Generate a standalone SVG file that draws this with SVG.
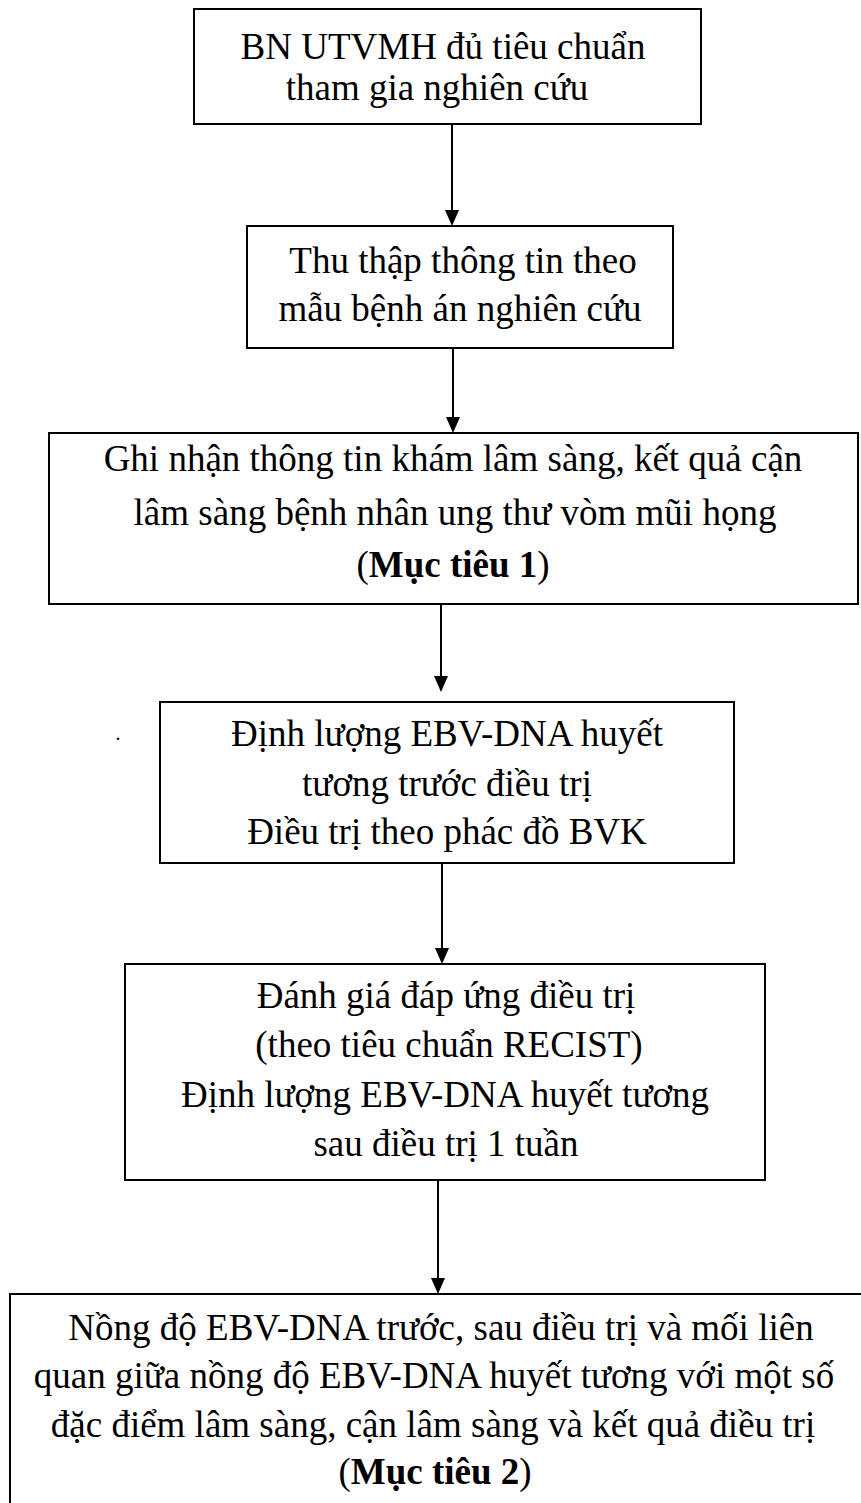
<svg xmlns="http://www.w3.org/2000/svg" width="861" height="1503" viewBox="0 0 861 1503">
<style>
.box{fill:#fff;stroke:#000;stroke-width:2}
.t{font-family:"Liberation Serif","Times New Roman",serif;font-size:37px;fill:#000;text-anchor:middle}
.b{font-weight:bold}
.c{stroke:#000;stroke-width:2;fill:none}
.h{fill:#000}
</style>
<rect width="861" height="1503" fill="#fff"/>
<g id="connectors">
<line class="c" x1="452" y1="124" x2="452" y2="210"/><path class="h" d="M445,210 L459,210 L452,226 Z"/>
<line class="c" x1="453" y1="348" x2="453" y2="417"/><path class="h" d="M446,417 L460,417 L453,433 Z"/>
<line class="c" x1="441" y1="604" x2="441" y2="676"/><path class="h" d="M434,676 L448,676 L441,692 Z"/>
<line class="c" x1="442" y1="863" x2="442" y2="948"/><path class="h" d="M435,948 L449,948 L442,964 Z"/>
<line class="c" x1="438" y1="1180" x2="438" y2="1278"/><path class="h" d="M431,1278 L445,1278 L438,1294 Z"/>
</g>
<g id="n1">
<rect class="box" x="194" y="9" width="507" height="115"/>
<text class="t" x="443" y="59">BN UTVMH đủ tiêu chuẩn</text>
<text class="t" x="437" y="100">tham gia nghiên cứu</text>
</g>
<g id="n2">
<rect class="box" x="247" y="226" width="426" height="122"/>
<text class="t" x="463" y="273">Thu thập thông tin theo</text>
<text class="t" x="460" y="321">mẫu bệnh án nghiên cứu</text>
</g>
<g id="n3">
<rect class="box" x="49" y="433" width="809" height="171"/>
<text class="t" x="453" y="471">Ghi nhận thông tin khám lâm sàng, kết quả cận</text>
<text class="t" x="455" y="525">lâm sàng bệnh nhân ung thư vòm mũi họng</text>
<text class="t" x="453" y="577">(<tspan class="b">Mục tiêu 1</tspan>)</text>
</g>
<g id="dot">
<text class="t" x="118" y="740" style="font-size:20px">.</text>
</g>
<g id="n4">
<rect class="box" x="160" y="702" width="574" height="161"/>
<text class="t" x="447" y="746">Định lượng EBV-DNA huyết</text>
<text class="t" x="447" y="796">tương trước điều trị</text>
<text class="t" x="447" y="844">Điều trị theo phác đồ BVK</text>
</g>
<g id="n5">
<rect class="box" x="125" y="964" width="640" height="216"/>
<text class="t" x="446" y="1008">Đánh giá đáp ứng điều trị</text>
<text class="t" x="449" y="1057">(theo tiêu chuẩn RECIST)</text>
<text class="t" x="445" y="1107">Định lượng EBV-DNA huyết tương</text>
<text class="t" x="446" y="1156">sau điều trị 1 tuần</text>
</g>
<g id="n6">
<rect class="box" x="10" y="1294" width="870" height="230"/>
<text class="t" x="441" y="1340">Nồng độ EBV-DNA trước, sau điều trị và mối liên</text>
<text class="t" x="434" y="1388">quan giữa nồng độ EBV-DNA huyết tương với một số</text>
<text class="t" x="433" y="1437">đặc điểm lâm sàng, cận lâm sàng và kết quả điều trị</text>
<text class="t" x="435" y="1484">(<tspan class="b">Mục tiêu 2</tspan>)</text>
</g>
</svg>
